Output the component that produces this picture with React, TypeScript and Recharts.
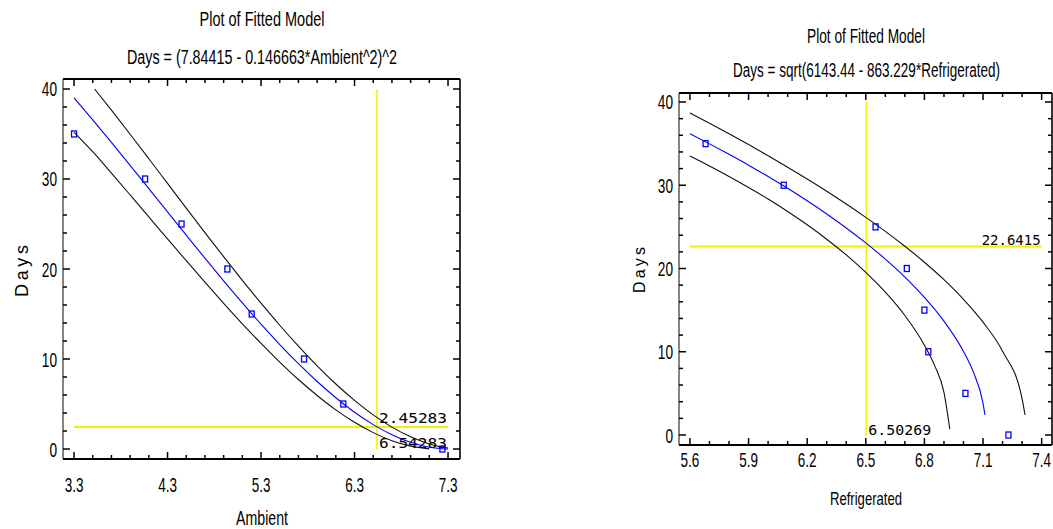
import React from "react";
import { ComposedChart, Line, Scatter, XAxis, YAxis, ReferenceLine } from "recharts";

// ---- Ambient panel (left) ----
const AMB_PTS_X = [3.3, 4.06, 4.45, 4.94, 5.2, 5.76, 6.18, 7.24];
const AMB_PTS_Y = [35, 30, 25, 20, 15, 10, 5, 0];
const AMB_FIT_X = [3.3, 3.5, 3.7, 3.9, 4.1, 4.3, 4.5, 4.7, 4.9, 5.1, 5.3, 5.5, 5.7, 5.9, 6.1, 6.3, 6.5, 6.7, 6.9, 7.1, 7.3];
const AMB_FIT_Y = [39.02, 36.57, 34.06, 31.51, 28.93, 26.34, 23.76, 21.2, 18.69, 16.24, 13.87, 11.61, 9.48, 7.5, 5.7, 4.09, 2.71, 1.59, 0.74, 0.2, 0.0];
const AMB_UP_X = [3.52, 3.7, 3.9, 4.1, 4.3, 4.5, 4.7, 4.9, 5.1, 5.3, 5.5, 5.7, 5.9, 6.1, 6.3, 6.5, 6.7, 6.9, 7.1, 7.3];
const AMB_UP_Y = [40.0, 37.65, 34.97, 32.25, 29.51, 26.77, 24.05, 21.37, 18.74, 16.2, 13.75, 11.42, 9.23, 7.22, 5.4, 3.79, 2.43, 1.35, 0.56, 0.11];
const AMB_LO_X = [3.3, 3.5, 3.7, 3.9, 4.1, 4.3, 4.5, 4.7, 4.9, 5.1, 5.3, 5.5, 5.7, 5.9, 6.1, 6.3, 6.5, 6.7, 6.9, 7.1];
const AMB_LO_Y = [35.2, 33.03, 30.65, 28.23, 25.79, 23.35, 20.92, 18.53, 16.18, 13.91, 11.73, 9.66, 7.72, 5.95, 4.35, 2.97, 1.82, 0.92, 0.32, 0.02];
const AMB_X_TICKS = [3.3, 3.5, 3.7, 3.9, 4.1, 4.3, 4.5, 4.7, 4.9, 5.1, 5.3, 5.5, 5.7, 5.9, 6.1, 6.3, 6.5, 6.7, 6.9, 7.1, 7.3];
const AMB_MARK_X = 6.54;
const AMB_MARK_Y = 2.45283;

// ---- Refrigerated panel (right) ----
const REF_PTS_X = [5.68, 6.08, 6.55, 6.71, 6.8, 6.82, 7.01, 7.23];
const REF_PTS_Y = [35, 30, 25, 20, 15, 10, 5, 0];
const REF_FIT_X = [5.6, 5.7, 5.8, 5.9, 6.0, 6.1, 6.2, 6.3, 6.4, 6.5, 6.6, 6.7, 6.8, 6.9, 7.0, 7.05, 7.1, 7.11];
const REF_FIT_Y = [36.19, 34.97, 33.71, 32.41, 31.05, 29.63, 28.13, 26.55, 24.87, 23.07, 21.12, 18.97, 16.54, 13.68, 10.04, 7.59, 3.81, 2.42];
const REF_UP_X = [5.6, 5.7, 5.8, 5.9, 6.0, 6.1, 6.2, 6.3, 6.4, 6.5, 6.6, 6.7, 6.8, 6.9, 7.0, 7.1, 7.2, 7.3, 7.315];
const REF_UP_Y = [38.68, 37.46, 36.19, 34.89, 33.54, 32.17, 30.75, 29.28, 27.74, 26.14, 24.46, 22.67, 20.75, 18.66, 16.3, 13.55, 10.06, 4.34, 2.4];
const REF_LO_X = [5.6, 5.7, 5.8, 5.9, 6.0, 6.1, 6.2, 6.3, 6.4, 6.5, 6.6, 6.7, 6.8, 6.85, 6.9, 6.93];
const REF_LO_Y = [33.5, 32.3, 31.04, 29.72, 28.34, 26.85, 25.25, 23.52, 21.63, 19.53, 17.15, 14.35, 10.79, 8.45, 5.11, 0.7];
const REF_X_TICKS = [5.6, 5.7, 5.8, 5.9, 6.0, 6.1, 6.2, 6.3, 6.4, 6.5, 6.6, 6.7, 6.8, 6.9, 7.0, 7.1, 7.2, 7.3, 7.4];
const REF_MARK_X = 6.50269;
const REF_MARK_Y = 22.6415;

const DAYS_TICKS = [0, 2, 4, 6, 8, 10, 12, 14, 16, 18, 20, 22, 24, 26, 28, 30, 32, 34, 36, 38, 40];

const FONT = "'Liberation Sans Narrow', 'Arial Narrow', 'Liberation Sans', Arial, sans-serif";
const MONO = "'DejaVu Sans Mono', 'Liberation Mono', monospace";
const BLUE = "#0000ff";
const YELLOW = "#f2f200";

const zip = (xs: number[], ys: number[]) => xs.map((x, i) => ({ x, y: ys[i] }));

const numWidth = (s: string) =>
  s.split("").reduce((w, c) => w + (c === "." ? 3.6 : 7.6), 0);

function XTick(props: any) {
  const { x, y, payload, index, plotH, every, gap } = props;
  const major = index % every === 0;
  const len = major ? 7 : 4;
  const label = Number(payload.value).toFixed(1);
  return (
    <g>
      <line x1={x} x2={x} y1={y} y2={y - len} stroke="#000" strokeWidth={1.5} />
      <line x1={x} x2={x} y1={y - plotH} y2={y - plotH + len} stroke="#000" strokeWidth={1.5} />
      {major && (
        <text x={x} y={y + gap} textAnchor="middle" fontFamily={FONT} fontSize={21} fill="#000"
          textLength={numWidth(label)} lengthAdjust="spacingAndGlyphs">
          {label}
        </text>
      )}
    </g>
  );
}

function YTick(props: any) {
  const { x, y, payload, plotW } = props;
  const v = Number(payload.value);
  const major = v % 10 === 0;
  const len = major ? 7 : 4;
  const label = String(v);
  return (
    <g>
      <line x1={x} x2={x + len} y1={y} y2={y} stroke="#000" strokeWidth={1.5} />
      <line x1={x + plotW} x2={x + plotW - len} y1={y} y2={y} stroke="#000" strokeWidth={1.5} />
      {major && (
        <text x={x - 6} y={y + 7.5} textAnchor="end" fontFamily={FONT} fontSize={21} fill="#000"
          textLength={numWidth(label)} lengthAdjust="spacingAndGlyphs">
          {label}
        </text>
      )}
    </g>
  );
}

function MarkText(props: any) {
  const { viewBox, text, corner, width, lift } = props;
  if (!viewBox) return null;
  const { x, y, width: w, height: h } = viewBox;
  const above = corner === "aboveRight";
  return (
    <text
      x={above ? x + w - 1 : x + 2}
      y={above ? y - lift : y + h - lift}
      textAnchor={above ? "end" : "start"}
      fontFamily={MONO}
      fontSize={14}
      fill="#000"
      textLength={width}
      lengthAdjust="spacingAndGlyphs"
    >
      {text}
    </text>
  );
}

const Square = (props: any) => {
  const { cx, cy } = props;
  return <rect x={cx - 2.5} y={cy - 3} width={5} height={6} fill="none" stroke={BLUE} strokeWidth={1.3} />;
};

function FitPanel(p: any) {
  const plotW = p.width - p.margin.left - 30 - p.margin.right;
  const plotH = p.height - p.margin.top - p.margin.bottom - 30;
  const [x0, x1] = p.xDomain;
  const [y0, y1] = p.yDomain;
  return (
    <div style={{ position: "absolute", left: p.left, top: 0 }}>
      <ComposedChart width={p.width} height={p.height} margin={p.margin}>
        <XAxis type="number" dataKey="x" domain={p.xDomain} allowDataOverflow ticks={p.xTicks}
          interval={0} height={30} tickSize={0} tickMargin={0} axisLine={false} tickLine={false}
          tick={<XTick plotH={plotH} every={p.every} gap={p.xGap} />} />
        <YAxis type="number" dataKey="y" domain={p.yDomain} allowDataOverflow ticks={DAYS_TICKS}
          interval={0} width={30} tickSize={0} tickMargin={0} axisLine={false} tickLine={false}
          tick={<YTick plotW={plotW} />} />
        <ReferenceLine segment={[{ x: p.markX, y: 0 }, { x: p.markX, y: 40 }]} stroke={YELLOW} strokeWidth={1.5}
          label={<MarkText text={p.markXText} corner="bottomLeft" width={p.markXWidth} lift={p.markXLift} />} />
        <ReferenceLine segment={[{ x: p.xTicks[0], y: p.markY }, { x: p.xTicks[p.xTicks.length - 1], y: p.markY }]}
          stroke={YELLOW} strokeWidth={2}
          label={<MarkText text={p.markYText} corner="aboveRight" width={p.markYWidth} lift={p.markYLift} />} />
        <Line data={p.upper} dataKey="y" type="monotone" stroke="#111" strokeWidth={1.1} dot={false} isAnimationActive={false} />
        <Line data={p.lower} dataKey="y" type="monotone" stroke="#111" strokeWidth={1.1} dot={false} isAnimationActive={false} />
        <Line data={p.fit} dataKey="y" type="monotone" stroke={BLUE} strokeWidth={1.1} dot={false} isAnimationActive={false} />
        <Scatter data={p.pts} dataKey="y" shape={Square} isAnimationActive={false} />
        <ReferenceLine y={y1} stroke="#000" strokeWidth={2.2} />
        <ReferenceLine y={y0} stroke="#000" strokeWidth={2.2} />
        <ReferenceLine x={x0} stroke="#333" strokeWidth={1.2} />
        <ReferenceLine x={x1} stroke="#000" strokeWidth={1.6} />
      </ComposedChart>
    </div>
  );
}

function Txt(props: any) {
  const { x, y, size, len, children, spacing } = props;
  return (
    <text x={x} y={y} textAnchor="middle" fontFamily={FONT} fontSize={size} fill="#000"
      textLength={len} lengthAdjust={spacing ? "spacing" : "spacingAndGlyphs"}>
      {children}
    </text>
  );
}

export default function App() {
  return (
    <div style={{ position: "absolute", left: 0, top: 0, width: 1053, height: 529, background: "#fff", overflow: "hidden" }}>
      <FitPanel
        left={0} width={470} height={529}
        margin={{ top: 79, right: 10, bottom: 40, left: 33 }}
        xDomain={[3.182, 7.428]} yDomain={[-1.11, 41.11]}
        xTicks={AMB_X_TICKS} every={5} xGap={33}
        fit={zip(AMB_FIT_X, AMB_FIT_Y)} upper={zip(AMB_UP_X, AMB_UP_Y)} lower={zip(AMB_LO_X, AMB_LO_Y)}
        pts={zip(AMB_PTS_X, AMB_PTS_Y)}
        markX={AMB_MARK_X} markY={AMB_MARK_Y}
        markXText="6.54283" markXWidth={68} markXLift={1}
        markYText="2.45283" markYWidth={68} markYLift={4}
      />
      <FitPanel
        left={580} width={473} height={529}
        margin={{ top: 93, right: 1, bottom: 54, left: 69 }}
        xDomain={[5.544, 7.453]} yDomain={[-1.2, 41.08]}
        xTicks={REF_X_TICKS} every={3} xGap={22}
        fit={zip(REF_FIT_X, REF_FIT_Y)} upper={zip(REF_UP_X, REF_UP_Y)} lower={zip(REF_LO_X, REF_LO_Y)}
        pts={zip(REF_PTS_X, REF_PTS_Y)}
        markX={REF_MARK_X} markY={REF_MARK_Y}
        markXText="6.50269" markXWidth={63} markXLift={0}
        markYText="22.6415" markYWidth={59} markYLift={2}
      />
      <svg width={1053} height={529} style={{ position: "absolute", left: 0, top: 0, pointerEvents: "none" }}>
        <Txt x={262} y={26} size={19.5} len={125}>Plot of Fitted Model</Txt>
        <Txt x={262} y={64} size={19.5} len={270}>Days = (7.84415 - 0.146663*Ambient^2)^2</Txt>
        <Txt x={262} y={525} size={21} len={52}>Ambient</Txt>
        <g transform="translate(22,271) rotate(-90)">
          <Txt x={0} y={6} size={18} len={52} spacing>Days</Txt>
        </g>
        <Txt x={866} y={43} size={19.5} len={118}>Plot of Fitted Model</Txt>
        <Txt x={866.5} y={77} size={19.5} len={267}>Days = sqrt(6143.44 - 863.229*Refrigerated)</Txt>
        <Txt x={866} y={505} size={19} len={72}>Refrigerated</Txt>
        <g transform="translate(639,270) rotate(-90)">
          <Txt x={0} y={5.5} size={16} len={46} spacing>Days</Txt>
        </g>
      </svg>
    </div>
  );
}
